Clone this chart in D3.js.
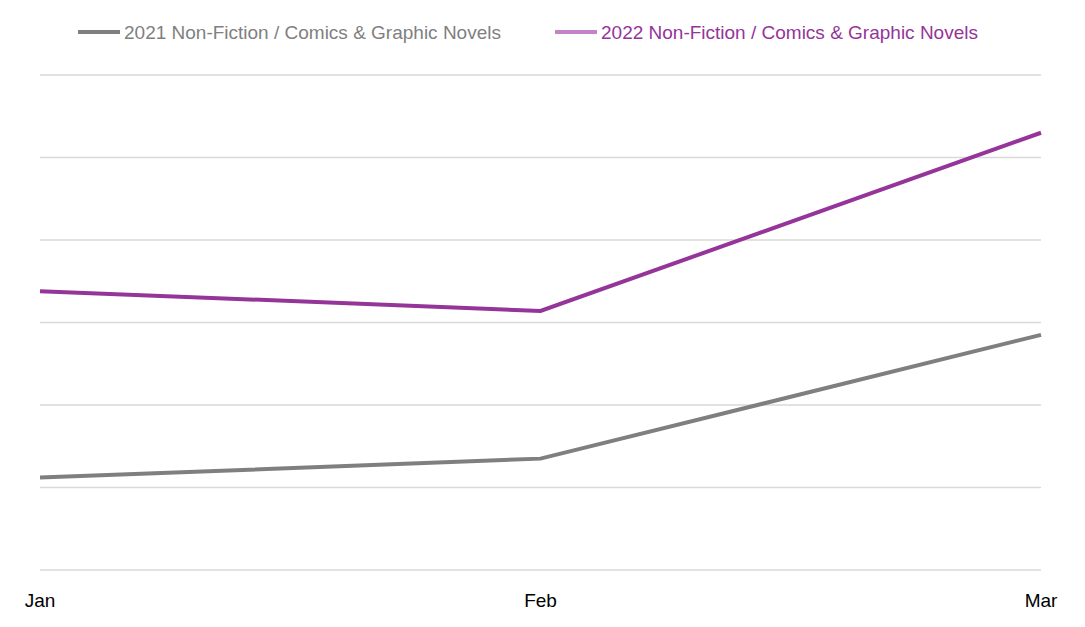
<!DOCTYPE html>
<html><head><meta charset="utf-8">
<script src="https://cdn.jsdelivr.net/npm/d3@7"></script>
<style>body{margin:0;background:#fff}svg{font-family:"Liberation Sans","DejaVu Sans",sans-serif}</style>
</head><body><svg id="c" width="1085" height="627"></svg>
<script>
const categories = ["Jan","Feb","Mar"];
const series2021 = [1.12, 1.35, 2.85];
const series2022 = [3.38, 3.14, 5.3];
const gridTicks = [0,1,2,3,4,5,6];
const seriesNames = ["2021 Non-Fiction / Comics & Graphic Novels","2022 Non-Fiction / Comics & Graphic Novels"];

const svg = d3.select("#c");
const x = d3.scalePoint().domain(categories).range([40,1041]);
const y = d3.scaleLinear().domain([0,6]).range([570,75]);

svg.append("g").selectAll("line").data(gridTicks).join("line")
  .attr("x1",40).attr("x2",1041).attr("y1",d=>y(d)).attr("y2",d=>y(d))
  .attr("stroke","#d9d9d9").attr("stroke-width",1.5);

svg.append("g").selectAll("text").data(categories).join("text")
  .attr("x",d=>x(d)).attr("y",607).attr("text-anchor","middle")
  .attr("font-size",19).attr("fill","#000").text(d=>d);

const line = d3.line().x((d,i)=>x(categories[i])).y(d=>y(d));
svg.append("path").datum(series2021).attr("d",line).attr("fill","none").attr("stroke","#7f7f7f").attr("stroke-width",4);
svg.append("path").datum(series2022).attr("d",line).attr("fill","none").attr("stroke","#953499").attr("stroke-width",4);

const leg = [{x:78,c:"#7f7f7f",t:"#7f7f7f",n:seriesNames[0]},{x:555,c:"#c283c7",t:"#953499",n:seriesNames[1]}];
leg.forEach(l=>{
  svg.append("line").attr("x1",l.x).attr("x2",l.x+42).attr("y1",32).attr("y2",32).attr("stroke",l.c).attr("stroke-width",4);
  svg.append("text").attr("x",l.x+46).attr("y",39).attr("font-size",19).attr("fill",l.t).text(l.n);
});
</script></body></html>
